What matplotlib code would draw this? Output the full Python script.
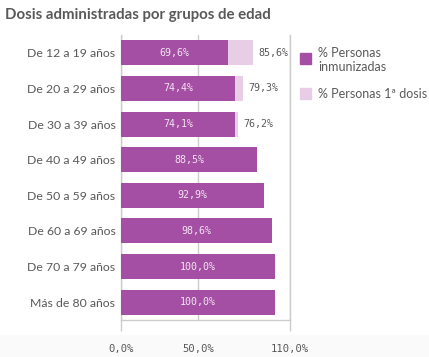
import matplotlib
matplotlib.use("Agg")
import matplotlib.pyplot as plt
from matplotlib.patches import Rectangle
import numpy as np

# data
grupos = ["De 12 a 19 años", "De 20 a 29 años", "De 30 a 39 años", "De 40 a 49 años",
          "De 50 a 59 años", "De 60 a 69 años", "De 70 a 79 años", "Más de 80 años"]
inmunizadas = [69.6, 74.4, 74.1, 88.5, 92.9, 98.6, 100.0, 100.0]
primera_dosis = [85.6, 79.3, 76.2, None, None, None, None, None]
xticks = [0, 50, 110]
xtick_labels = ["0,0%", "50,0%", "110,0%"]

dark = "#a44fa3"
light = "#e8cde7"
grey_txt = "#595959"
line_col = "#cccccc"

def fmt(v):
    return f"{v:.1f}%".replace(".", ",")

fig = plt.figure(figsize=(4.29, 3.57), dpi=100)
fig.patch.set_facecolor("white")
ax = fig.add_axes([121 / 429, 37 / 357, 169 / 429, 285 / 357])

y = np.arange(len(grupos))
h = 0.70

# light bars (first dose) behind the dark ones
for yi, v in zip(y, primera_dosis):
    if v is None:
        continue
    ax.barh(yi, v, height=h, color=light, zorder=2)
    ax.annotate(fmt(v), (v, yi), xytext=(4, 0), textcoords="offset points",
                va="center", ha="left", fontsize=7.2, family="DejaVu Sans Mono",
                color=grey_txt)

ax.barh(y, inmunizadas, height=h, color=dark, zorder=3)
for yi, v in zip(y, inmunizadas):
    ax.text(v / 2, yi, fmt(v), va="center", ha="center", fontsize=7.2,
            family="DejaVu Sans Mono", color="#f3e4f2", zorder=4)

ax.set_xlim(0, 110)
ax.set_ylim(len(grupos) - 0.5, -0.5)
ax.set_yticks(y)
ax.set_yticklabels(grupos, family="Lato", fontsize=8.8, color=grey_txt)
ax.tick_params(axis="y", length=0, pad=4)
ax.set_xticks(xticks)
ax.set_xticklabels(xtick_labels, family="DejaVu Sans Mono", fontsize=7.6, color=grey_txt)
ax.tick_params(axis="x", length=8, color=line_col, width=1, pad=9)
ax.xaxis.get_major_ticks()[1].tick1line.set_visible(False)
ax.grid(axis="x", color=line_col, lw=1, zorder=0)
ax.set_axisbelow(True)
ax.spines["top"].set_visible(False)
for s in ["left", "right", "bottom"]:
    ax.spines[s].set_color(line_col)
    ax.spines[s].set_linewidth(1)

# title
fig.text(5 / 429, 1 - 15 / 357, "Dosis administradas por grupos de edad",
         family="Lato", fontweight="bold", fontsize=10.8, color=grey_txt,
         va="center", ha="left")

# legend
fig.add_artist(Rectangle((300 / 429, 1 - 64 / 357), 11 / 429, 11 / 357,
                         transform=fig.transFigure, color=dark))
fig.add_artist(Rectangle((300 / 429, 1 - 99 / 357), 11 / 429, 11 / 357,
                         transform=fig.transFigure, color=light))
fig.text(318 / 429, 1 - 60 / 357, "% Personas\ninmunizadas", family="Lato",
         fontsize=9.0, color=grey_txt, va="center", ha="left", linespacing=1.2)
fig.text(318 / 429, 1 - 94 / 357, "% Personas 1ª dosis", family="Lato",
         fontsize=9.0, color=grey_txt, va="center", ha="left")

# faint strip at the bottom
fig.add_artist(Rectangle((0, 0), 1, 22 / 357, transform=fig.transFigure,
                         color="#fafafa", zorder=-1))

fig.savefig("out.png", dpi=100)
